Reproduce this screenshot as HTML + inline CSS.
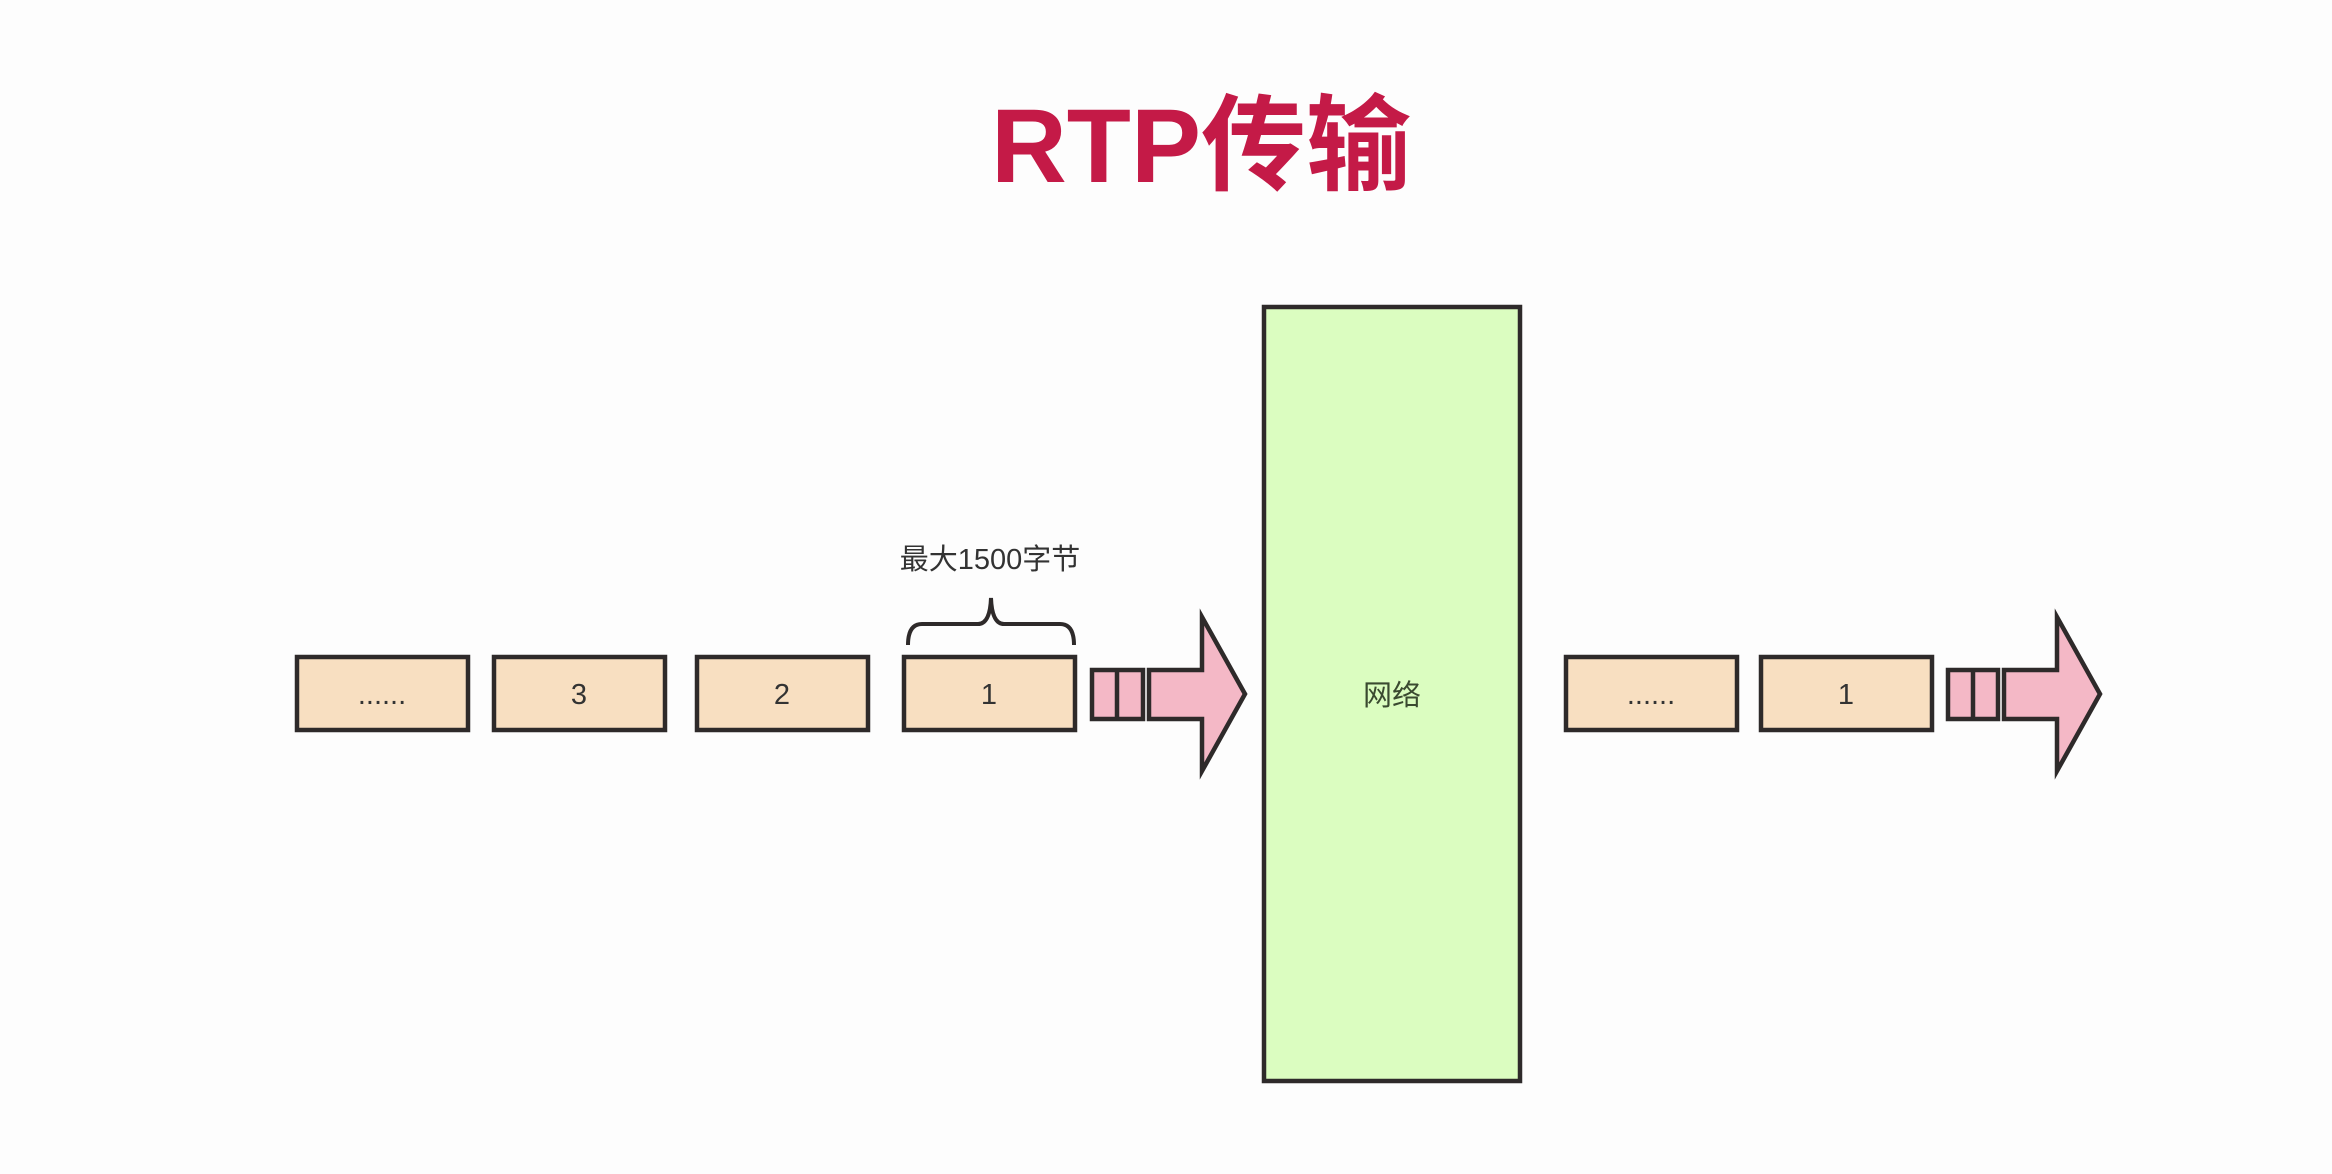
<!DOCTYPE html>
<html><head><meta charset="utf-8"><style>
html,body{margin:0;padding:0;background:#fdfdfd;}
svg{display:block}
</style></head><body>
<svg width="2332" height="1174" viewBox="0 0 2332 1174" xmlns="http://www.w3.org/2000/svg">
<rect width="2332" height="1174" fill="#fdfdfd"/>
<text x="1201" y="182" text-anchor="middle" font-family="'Liberation Sans','Noto Sans CJK SC',sans-serif" font-weight="bold" font-size="105" fill="#c41a47">RTP传输</text>
<g stroke="#2e2a2a" stroke-width="4.5" fill="#f8dfc1">
<rect x="297" y="657" width="171" height="73"/>
<rect x="494" y="657" width="171" height="73"/>
<rect x="697" y="657" width="171" height="73"/>
<rect x="904" y="657" width="171" height="73"/>
<rect x="1566" y="657" width="171" height="73"/>
<rect x="1761" y="657" width="171" height="73"/>
</g>
<rect x="1264" y="307" width="256" height="774" fill="#dbfdc0" stroke="#2e2a2a" stroke-width="4.5"/>
<g stroke="#2e2a2a" stroke-width="4.5" fill="#f4b8c6" stroke-linejoin="miter">
<rect x="1092" y="670" width="51" height="49"/>
<line x1="1117" y1="670" x2="1117" y2="719"/>
<polygon points="1149,670 1202,670 1202,617 1245,694 1202,771 1202,719 1149,719"/>
<rect x="1948" y="670" width="50" height="49"/>
<line x1="1973" y1="670" x2="1973" y2="719"/>
<polygon points="2004,670 2057,670 2057,617 2100,694 2057,771 2057,719 2004,719"/>
</g>
<path d="M908,645 Q908,624 922,624 L978,624 Q990,624 991,598 Q992,624 1004,624 L1060,624 Q1074,624 1074,645" fill="none" stroke="#2e2a2a" stroke-width="4"/>
<g font-family="'Liberation Sans','Noto Sans CJK SC',sans-serif" fill="#333" font-size="29" text-anchor="middle">
<text x="382" y="704">......</text>
<text x="579" y="704">3</text>
<text x="782" y="704">2</text>
<text x="989" y="704">1</text>
<text x="1651" y="704">......</text>
<text x="1846" y="704">1</text>
<text x="1392" y="705" fill="#3a4a30">网络</text>
<text x="990" y="569" font-size="29">最大1500字节</text>
</g>
</svg>
</body></html>
